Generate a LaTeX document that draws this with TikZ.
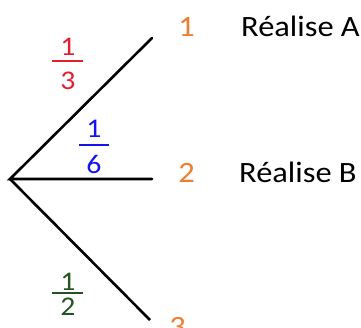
\documentclass[tikz,border=0pt]{standalone}
\usepackage{fontspec}
\setmainfont{Carlito}
\definecolor{orng}{RGB}{237,125,49}
\definecolor{fred}{RGB}{228,30,45}
\definecolor{fblue}{RGB}{20,20,235}
\definecolor{fgreen}{RGB}{35,85,35}
\newcommand{\wide}[1]{\scalebox{1.1}[1]{#1}}
\begin{document}
\begin{tikzpicture}[x=1pt,y=-1pt,
  branch/.style={line width=2.6pt},
  outc/.style={font=\fontsize{29.5}{31}\selectfont, text=orng, inner sep=0pt, anchor=base},
  lbl/.style={font=\fontsize{29.5}{31}\selectfont, inner sep=0pt, anchor=base west},
  fnum/.style={font=\fontsize{27}{29}\selectfont, inner sep=0pt, anchor=base},
  fbar/.style={line width=2.6pt}]
\useasboundingbox (0,0) rectangle (361,327);
\coordinate (root) at (10,179);
\coordinate (e1) at (152,38);
\coordinate (e2) at (152,179);
\coordinate (e3) at (150,320);
\draw[branch, line cap=round] (e1) -- (root) -- (e2);
\draw[branch] (root) -- (e3);
\node[outc] (o1) at (186.5,36) {\wide{1}};
\node[outc] (o2) at (186.5,182) {\wide{2}};
\node[outc] (o3) at (177.5,336) {\wide{3}};
\node[lbl] (ra) at (241,36) {\wide{Réalise A}};
\node[lbl] (rb) at (239,182) {\wide{Réalise B}};
% 1/3
\node[fnum, text=fred] (n1) at (68,55) {\wide{1}};
\node[fnum, text=fred] (d1) at (68,89) {\wide{3}};
\draw[fbar, fred] (52,61) -- (83,61);
% 1/6
\node[fnum, text=fblue] (n2) at (94,137) {\wide{1}};
\node[fnum, text=fblue] (d2) at (94,173) {\wide{6}};
\draw[fbar, fblue] (79,145) -- (109,145);
% 1/2
\node[fnum, text=fgreen] (n3) at (68,290) {\wide{1}};
\node[fnum, text=fgreen] (d3) at (68,315) {\wide{2}};
\draw[fbar, fgreen] (52,293) -- (83,293);
\end{tikzpicture}
\end{document}
